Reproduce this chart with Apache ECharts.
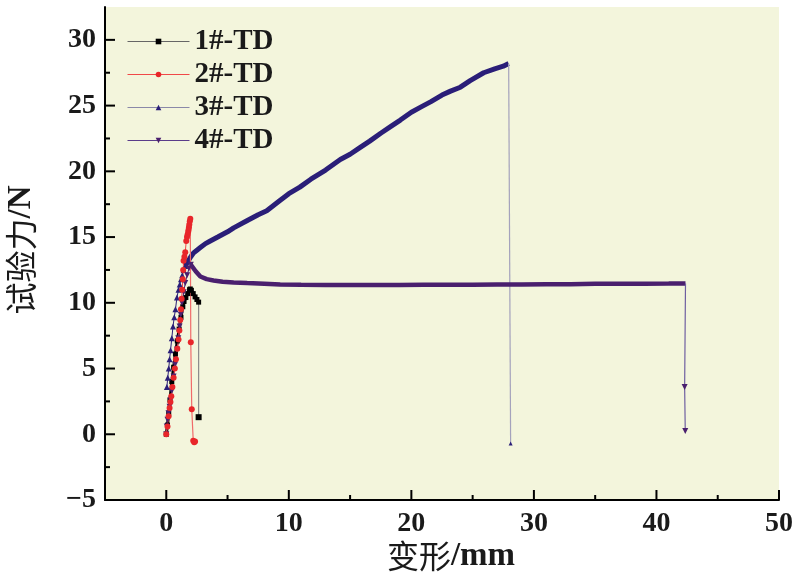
<!DOCTYPE html>
<html><head><meta charset="utf-8">
<script src="https://cdn.jsdelivr.net/npm/echarts@6/dist/echarts.min.js"></script>
<style>html,body{margin:0;padding:0;background:#fff}#c{width:808px;height:579px}</style>
</head><body><div id="c"></div>
<script>
// ---------------- data ----------------
const seriesNames = ['1#-TD', '2#-TD', '3#-TD', '4#-TD'];
const xTicks = [0, 10, 20, 30, 40, 50];
const xMinorTicks = [5, 15, 25, 35, 45];
const yTicks = [-5, 0, 5, 10, 15, 20, 25, 30];
const yMinorTicks = [-2.5, 2.5, 7.5, 12.5, 17.5, 22.5, 27.5];

// 1#-TD
const s1X = [0, 0.1, 0.2, 0.3, 0.45, 0.6, 0.75, 0.9, 1.05, 1.2, 1.35, 1.45, 1.6, 1.75, 1.9, 1.96, 2.05, 2.2, 2.35, 2.5, 2.64];
const s1Y = [0, 0.7, 1.6, 2.6, 4.0, 5.1, 6.1, 7.1, 8.0, 8.9, 9.7, 10.1, 10.4, 10.7, 11.0, 11.05, 10.95, 10.7, 10.45, 10.25, 10.05];
const s1DropX = [2.64, 2.64];
const s1DropY = [10.05, 1.3];

// 2#-TD
const s2X = [0, 0.1, 0.19, 0.27, 0.34, 0.41, 0.5, 0.6, 0.7, 0.79, 0.9, 1.0, 1.07, 1.14, 1.2, 1.25, 1.3, 1.35, 1.38, 1.41, 1.48, 1.55, 1.63, 1.69, 1.74, 1.79, 1.82, 1.85, 1.88, 1.92, 1.96];
const s2Y = [0, 0.6, 1.37, 2.0, 2.45, 2.9, 3.6, 4.3, 5.0, 5.7, 6.5, 7.2, 7.9, 8.7, 9.5, 10.3, 11.0, 11.8, 12.5, 13.2, 13.5, 13.85, 14.7, 15.0, 15.2, 15.4, 15.55, 15.75, 15.95, 16.2, 16.4];
const s2DropX = [1.96, 2.0, 2.08, 2.2, 2.28, 2.35];
const s2DropY = [16.4, 7.0, 1.9, -0.5, -0.6, -0.55];

// 3#-TD
const s3RiseX = [0.05, 0.12, 0.2, 0.27, 0.35, 0.45, 0.55, 0.65, 0.75, 0.87, 1.0, 1.1, 1.2, 1.3, 1.42, 1.55];
const s3RiseY = [3.6, 4.3, 5.0, 5.7, 6.4, 7.3, 8.2, 8.9, 9.5, 10.4, 11.0, 11.4, 11.8, 12.1, 12.5, 12.8];
const s3X = [1.55, 1.8, 2.0, 2.23, 2.5, 2.78, 3.2, 3.59, 4.2, 5.0, 5.5, 6.5, 7.5, 8.2, 9.3, 10.0, 10.9, 11.8, 13.0, 14.2, 15.0, 15.8, 16.6, 17.5, 18.3, 19.1, 20.0, 20.8, 21.6, 22.5, 23.2, 24.0, 24.8, 25.9, 26.8, 27.5, 27.94];
const s3Y = [12.8, 13.2, 13.5, 13.8, 14.0, 14.2, 14.5, 14.7, 15.0, 15.4, 15.7, 16.2, 16.7, 17.0, 17.8, 18.3, 18.8, 19.4, 20.1, 20.9, 21.3, 21.8, 22.3, 22.9, 23.4, 23.9, 24.5, 24.9, 25.3, 25.8, 26.1, 26.4, 26.9, 27.5, 27.8, 28.0, 28.2];
const s3DropX = [27.94, 28.1];
const s3DropY = [28.2, -0.7];

// 4#-TD
const s4RiseX = [0, 0.04, 0.1, 0.18, 0.27, 0.35, 0.45, 0.6, 0.72, 0.87, 0.98, 1.09, 1.18, 1.28, 1.42, 1.55, 1.7, 1.85, 2.0];
const s4RiseY = [0, 0.6, 1.1, 1.6, 2.1, 2.6, 3.3, 4.4, 5.3, 6.45, 7.3, 8.2, 9.1, 10.0, 10.8, 11.5, 12.1, 12.6, 12.9];
const s4X = [2.0, 2.1, 2.4, 2.78, 3.3, 3.86, 4.6, 5.5, 6.6, 8.0, 9.3, 11, 13, 15, 17, 19, 21, 23, 25, 27, 29, 31, 33, 35, 37, 39, 41, 42.37];
const s4Y = [12.9, 12.9, 12.4, 12.0, 11.8, 11.7, 11.6, 11.55, 11.5, 11.45, 11.4, 11.38, 11.36, 11.35, 11.35, 11.36, 11.37, 11.38, 11.38, 11.4, 11.4, 11.42, 11.42, 11.44, 11.44, 11.45, 11.46, 11.47];
const s4DropX = [42.37, 42.3, 42.35];
const s4DropY = [11.47, 3.6, 0.25];

// ---------------- chart ----------------
const zip = (xs, ys) => xs.map((x, i) => [x, ys[i]]);
const zipDrop = (xs, ys) => xs.map((x, i) => i === 0 ? { value: [x, ys[i]], symbol: 'none' } : [x, ys[i]]);

const C1 = '#000000', C2 = '#e8262a', C3 = '#2a1e78', C4 = '#4a1f6e';
const serif = '"Liberation Serif", "Times New Roman", serif';
const txt = '#1a1a1a';
const X_MIN = -5, X_MAX = 50, Y_MIN = -5, Y_MAX = 32.5;

function line(name, data, color, width, symbol, size, extra) {
  return Object.assign({
    type: 'line', name, data, showSymbol: symbol !== 'none', symbol, symbolSize: size,
    lineStyle: { color, width }, itemStyle: { color: extra && extra.markerColor || color },
    emphasis: { disabled: true }, animation: false
  }, extra && extra.opts || {});
}

const series = [
  line('1#-TD', zip(s1X, s1Y), C1, 3, 'rect', 5),
  line('1#-TD', zipDrop(s1DropX, s1DropY), '#8a8a8a', 1.2, 'rect', 6, { markerColor: C1 }),
  line('3#-TD', zip(s3RiseX, s3RiseY), C3, 1, 'triangle', 6),
  line('3#-TD', zip(s3X, s3Y), C3, 5, 'none', 0),
  line('3#-TD', zipDrop(s3DropX, s3DropY), '#a4a2bc', 1.2, 'triangle', 4, { markerColor: C3 }),
  line('4#-TD', zip(s4RiseX, s4RiseY), C4, 1, 'triangle', 6, { opts: { symbolRotate: 180 } }),
  line('4#-TD', zip(s4X, s4Y), C4, 4.5, 'none', 0),
  line('4#-TD', zipDrop(s4DropX, s4DropY), '#6e5ea0', 1.2, 'triangle', 6, { markerColor: C4, opts: { symbolRotate: 180 } }),
  line('2#-TD', zip(s2X, s2Y), '#f04848', 1, 'circle', 6, { markerColor: C2 }),
  line('2#-TD', zipDrop(s2DropX, s2DropY), '#f06a6a', 1.2, 'circle', 6, { markerColor: C2 })
];

const labelStyle = { fontFamily: serif, fontWeight: 'bold', fontSize: 28, color: txt };
const minus = v => v < 0 ? '\u2212' + (-v) : String(v);

const chart = echarts.init(document.getElementById('c'), null, { renderer: 'canvas' });
chart.setOption({
  animation: false,
  backgroundColor: '#ffffff',
  grid: { left: 105, right: 29, top: 7, bottom: 79, show: false },
  legend: {
    orient: 'vertical', left: 127, top: 27, padding: 0, itemWidth: 62, itemHeight: 7, itemGap: 4,
    selectedMode: false,
    data: [
      { name: '1#-TD', lineStyle: { color: '#666', width: 1 } },
      { name: '2#-TD', lineStyle: { color: '#f04848', width: 1 } },
      { name: '3#-TD', lineStyle: { color: '#8a88a8', width: 1 } },
      { name: '4#-TD', lineStyle: { color: '#5a3c8a', width: 1 } }
    ],
    textStyle: Object.assign({ lineHeight: 28 }, labelStyle, { fontSize: 29 })
  },
  xAxis: {
    type: 'value', min: X_MIN, max: X_MAX, interval: 5, position: 'bottom',
    axisLine: { show: true, onZero: false, lineStyle: { color: '#000', width: 2 } },
    axisTick: { show: false },
    axisLabel: Object.assign({ customValues: xTicks, margin: 10, formatter: minus }, labelStyle),
    splitLine: { show: false }
  },
  yAxis: {
    type: 'value', min: Y_MIN, max: Y_MAX, interval: 2.5, position: 'left',
    axisLine: { show: true, onZero: false, lineStyle: { color: '#000', width: 2 } },
    axisTick: { show: false },
    axisLabel: Object.assign({ customValues: yTicks, margin: 9, formatter: minus }, labelStyle),
    splitLine: { show: false }
  },
  series
});

// plot background and inward tick marks, placed through the grid's own scales
const px = (x, y) => chart.convertToPixel({ gridIndex: 0 }, [x, y]);
const p0 = px(X_MIN, Y_MAX), p1 = px(X_MAX, Y_MIN);
const tickEls = [];
const addTick = (p, dx, dy) => tickEls.push({
  type: 'line', z: 50, silent: true,
  shape: { x1: p[0], y1: p[1], x2: p[0] + dx, y2: p[1] + dy },
  style: { stroke: '#000000', lineWidth: 2 }
});
xTicks.forEach(v => addTick(px(v, Y_MIN), 0, -10));
xMinorTicks.forEach(v => addTick(px(v, Y_MIN), 0, -5));
yTicks.forEach(v => addTick(px(X_MIN, v), 10, 0));
yMinorTicks.forEach(v => addTick(px(X_MIN, v), 5, 0));

chart.setOption({
  graphic: [
    {
      type: 'rect', z: -10, silent: true,
      shape: { x: p0[0], y: p0[1], width: p1[0] - p0[0], height: p1[1] - p0[1] },
      style: { fill: '#f3f5dc' }
    },
    ...tickEls,
    {
      type: 'text', x: 451, y: 556, z: 100,
      style: {
        text: '{c|变形}{e|/mm}', align: 'center', verticalAlign: 'middle', fill: txt,
        rich: { c: { fontFamily: '"Noto Sans CJK SC"', fontSize: 32, fill: txt }, e: { fontFamily: serif, fontWeight: 'bold', fontSize: 33, fill: txt } }
      }
    },
    {
      type: 'text', x: 21, y: 250, rotation: Math.PI / 2, z: 100,
      style: {
        text: '{c|试验力}{e|/N}', align: 'center', verticalAlign: 'middle', fill: txt,
        rich: { c: { fontFamily: '"Noto Sans CJK SC"', fontSize: 32, fill: txt }, e: { fontFamily: serif, fontWeight: 'bold', fontSize: 33, fill: txt } }
      }
    }
  ]
});
</script></body></html>
